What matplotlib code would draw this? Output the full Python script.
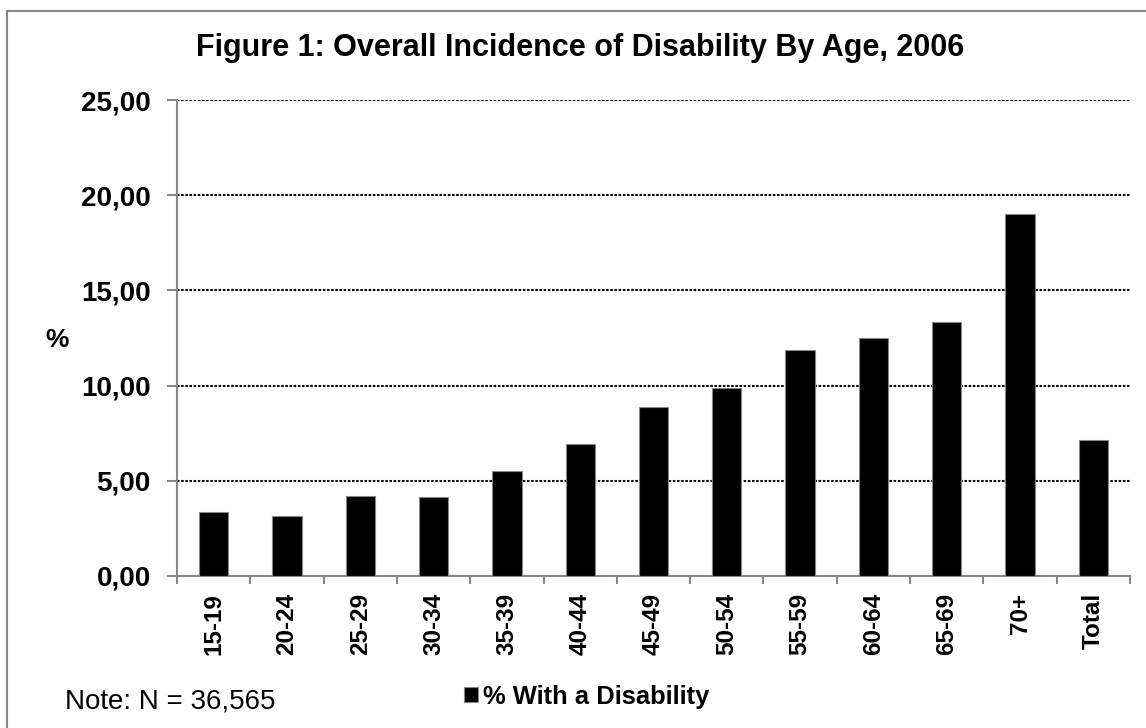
import matplotlib
matplotlib.use("Agg")
import matplotlib.pyplot as plt
from matplotlib.patches import Rectangle
from matplotlib.ticker import FuncFormatter, MultipleLocator

# Daten
age_groups = ["15-19", "20-24", "25-29", "30-34", "35-39", "40-44", "45-49",
              "50-54", "55-59", "60-64", "65-69", "70+", "Total"]
pct_disability = [3.35, 3.13, 4.21, 4.17, 5.51, 6.95, 8.88,
                  9.89, 11.89, 12.52, 13.35, 19.00, 7.13]
y_ticks = [0, 5, 10, 15, 20, 25]

plt.rcParams["font.family"] = ["Liberation Sans", "DejaVu Sans"]
GRAY = "#878787"

fig = plt.figure(figsize=(11.46, 7.28), dpi=100, facecolor="white")
ax = fig.add_axes([0.1545, 0.2088, 0.986 - 0.1545, 0.8626 - 0.2088])

x = list(range(len(age_groups)))
ax.bar(x, pct_disability, width=0.40, color="black", edgecolor=GRAY,
       linewidth=0.8, zorder=3, label="% With a Disability")

ax.set_xlim(-0.5, len(age_groups) - 0.5)
ax.set_ylim(0, 25)
ax.set_yticks(y_ticks)
ax.yaxis.set_major_formatter(FuncFormatter(lambda v, p: f"{v:.2f}".replace(".", ",")))
ax.grid(axis="y", color="black", linestyle=(0, (1.2, 0.8)), linewidth=1.5, zorder=1)

ax.set_xticks(x)
ax.set_xticklabels(age_groups, rotation=90, fontsize=17.5, fontweight="bold")
ax.xaxis.set_minor_locator(MultipleLocator(1, offset=0.5))
ax.tick_params(axis="x", which="major", length=0, pad=12)
ax.tick_params(axis="x", which="minor", length=6, color=GRAY, width=1.5)
ax.tick_params(axis="y", length=7, color=GRAY, width=1.5, labelsize=20, pad=12)
for lab in ax.get_yticklabels():
    lab.set_fontweight("bold")

for side in ["top", "right"]:
    ax.spines[side].set_visible(False)
for side in ["left", "bottom"]:
    ax.spines[side].set_color(GRAY)
    ax.spines[side].set_linewidth(1.5)

ax.set_ylabel("%", rotation=0, fontsize=19, fontweight="bold", va="center", ha="center")
ax.yaxis.set_label_coords(-0.126, 0.496)

fig.text(0.506, 0.934, "Figure 1: Overall Incidence of Disability By Age, 2006",
         ha="center", va="center", fontsize=22, fontweight="bold")

fig.text(0.057, 0.036, "Note: N = 36,565", ha="left", va="center", fontsize=20)

leg = ax.legend(loc="center", frameon=False, handlelength=0.55, handleheight=0.55,
                handletextpad=0.2, borderpad=0, prop={"size": 18.4, "weight": "bold"})
leg.set_bbox_to_anchor((0.512, 0.043), transform=fig.transFigure)

# Rahmen
fig.patches.append(Rectangle((0.0061, -0.1), 1.2, 1.0849, transform=fig.transFigure,
                             fill=False, edgecolor=GRAY, linewidth=1.5))

fig.savefig("out.png", dpi=100, facecolor="white")
